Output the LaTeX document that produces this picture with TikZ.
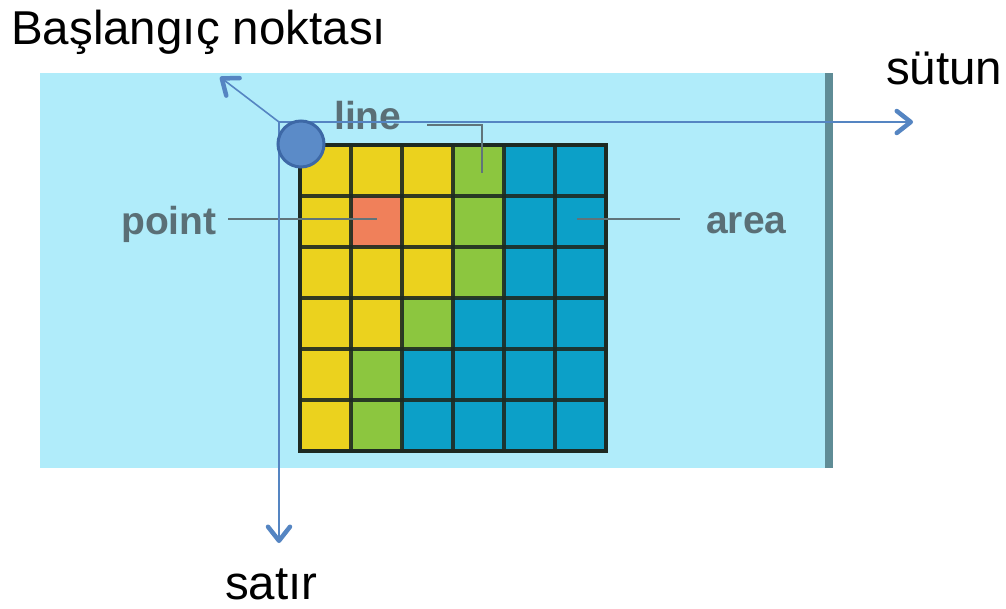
\documentclass[tikz,border=0pt]{standalone}
\usepackage{fontspec}
\setmainfont{Liberation Sans}
\usetikzlibrary{arrows.meta}
\definecolor{bgblue}{HTML}{B0ECFA}
\definecolor{edgegray}{HTML}{5F8C96}
\definecolor{Y}{HTML}{EBD21E}
\definecolor{G}{HTML}{8CC63F}
\definecolor{B}{HTML}{0CA0C8}
\definecolor{R}{HTML}{F0805A}
\definecolor{gridln}{HTML}{1E2A22}
\definecolor{axisblue}{HTML}{5585C2}
\definecolor{dotfill}{HTML}{5B8BC8}
\definecolor{dotedge}{HTML}{3D68A6}
\definecolor{labgray}{HTML}{4B5A60}
\definecolor{leadgray}{HTML}{60747A}
\tikzset{
  bigtext/.style={inner sep=0pt, anchor=base west, font=\fontsize{47.5}{50}\selectfont, text=black},
  smalltext/.style={inner sep=0pt, anchor=base west, font=\fontsize{39}{41}\selectfont\bfseries, text=labgray, opacity=0.85},
  axisarrow/.style={draw=axisblue, line width=1.6pt,
    -{Straight Barb[length=14pt,width=22pt,line width=4.5pt,round]}},
  leader/.style={draw=leadgray, line width=1.8pt}
}
\begin{document}
\begin{tikzpicture}[x=1pt,y=-1pt]
\useasboundingbox (0,0) rectangle (1006,608);
% background panel
\fill[bgblue] (40,73) rectangle (827,468);
\fill[edgegray] (825,73) rectangle (833,468);
% grid cells
\def\cw{51}
\foreach \r/\row in {0/{Y,Y,Y,G,B,B},1/{Y,R,Y,G,B,B},2/{Y,Y,Y,G,B,B},3/{Y,Y,G,B,B,B},4/{Y,G,B,B,B,B},5/{Y,G,B,B,B,B}}{
  \foreach \c [count=\ci from 0] in \row {
    \fill[fill=\c] ({300+\ci*\cw},{145+\r*\cw}) rectangle ++(\cw,\cw);
  }
}
\foreach \i in {1,...,5}{
  \draw[gridln, line width=3.8pt, opacity=0.9] ({300+\i*\cw},145) -- ({300+\i*\cw},451);
  \draw[gridln, line width=3.8pt, opacity=0.9] (300,{145+\i*\cw}) -- (606,{145+\i*\cw});
}
\draw[gridln, line width=4.5pt] (300,145) rectangle (606,451);
% labels and leaders
\node[smalltext] (line) at (334,129) {line};
\node[smalltext] (point) at (121,234) {point};
\node[smalltext] (area) at (706,233) {area};
\coordinate (lineA) at (427,125);
\coordinate (lineB) at (482,173);
\coordinate (ptA) at (228,219);
\coordinate (ptB) at (377,219);
\coordinate (arA) at (577,219);
\coordinate (arB) at (680,219);
\draw[leader] (lineA) -| (lineB);
\draw[leader] (ptA) -- (ptB);
\draw[leader] (arA) -- (arB);
% axes
\coordinate (O) at (279,122);
\coordinate (xend) at (913,122);
\coordinate (yend) at (279,543);
\coordinate (dend) at (220,77);
\draw[axisarrow] (O) -- (xend);
\draw[axisarrow] (O) -- (yend);
\draw[axisarrow] (O) -- (dend);
% origin dot
\node[circle, minimum size=46pt, inner sep=0pt, fill=dotfill, draw=dotedge, line width=3pt] (dot) at (301,144) {};
% titles
\node[bigtext] (start) at (11,44) {Başlangıç noktası};
\node[bigtext] (col) at (886,84) {sütun};
\node[bigtext] (row) at (225,599) {satır};
\end{tikzpicture}
\end{document}
